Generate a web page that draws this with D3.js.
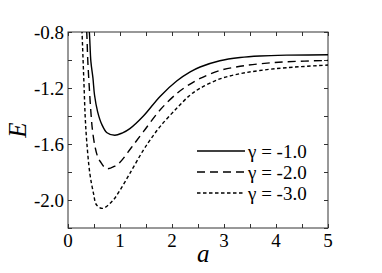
<!DOCTYPE html>
<html>
<head>
<meta charset="utf-8">
<script src="https://cdn.jsdelivr.net/npm/d3@7"></script>
<style>
  body { margin: 0; background: #fff; }
  svg { display: block; }
</style>
</head>
<body>
<div id="chart"></div>
<script>
// curve values: a (x) and E (y)
var aSolid  = [0.38, 0.41, 0.44, 0.48, 0.51, 0.57, 0.65, 0.75, 0.90, 1.05, 1.19, 1.45, 1.77, 2.09, 2.35, 2.54, 2.92, 3.31, 3.69, 4.20, 5.00];
var eSolid  = [-0.70, -0.80, -1.01, -1.13, -1.25, -1.37, -1.46, -1.52, -1.538, -1.52, -1.49, -1.40, -1.26, -1.15, -1.085, -1.05, -1.005, -0.982, -0.971, -0.965, -0.962];

var aDashed = [0.34, 0.36, 0.38, 0.41, 0.44, 0.47, 0.52, 0.57, 0.62, 0.74, 0.90, 1.00, 1.22, 1.45, 1.77, 2.09, 2.28, 2.54, 2.92, 3.31, 3.69, 4.20, 5.00];
var eDashed = [-0.70, -0.80, -1.00, -1.20, -1.37, -1.50, -1.62, -1.69, -1.725, -1.776, -1.758, -1.73, -1.625, -1.512, -1.357, -1.24, -1.188, -1.132, -1.075, -1.045, -1.027, -1.013, -1.003];

var aDotted = [0.26, 0.27, 0.29, 0.31, 0.33, 0.36, 0.42, 0.49, 0.55, 0.67, 0.87, 1.00, 1.19, 1.45, 1.58, 1.77, 2.09, 2.35, 2.54, 2.92, 3.31, 3.69, 4.20, 5.00];
var eDotted = [-0.70, -0.80, -1.00, -1.20, -1.40, -1.58, -1.81, -1.952, -2.036, -2.06, -2.00, -1.93, -1.81, -1.643, -1.571, -1.476, -1.345, -1.25, -1.202, -1.135, -1.098, -1.075, -1.055, -1.036];

var seriesNames = ["\u03b3 = -1.0", "\u03b3 = -2.0", "\u03b3 = -3.0"];
var xTickValues = [0, 1, 2, 3, 4, 5];
var yTickValues = [-2.0, -1.6, -1.2, -0.8];

var serif = "'Liberation Serif', 'Times New Roman', Times, serif";
var labelSize = 19;

var width = 382, height = 273;
var margin = {top: 32, right: 54, bottom: 45, left: 68};
var innerWidth = width - margin.left - margin.right;
var innerHeight = height - margin.top - margin.bottom;

var xScale = d3.scaleLinear().domain([0, 5]).range([0, innerWidth]);
var yScale = d3.scaleLinear().domain([-2.2, -0.8]).range([innerHeight, 0]);

var series = [
    {name: seriesNames[0], a: aSolid,  e: eSolid,  dash: null},
    {name: seriesNames[1], a: aDashed, e: eDashed, dash: "8,5"},
    {name: seriesNames[2], a: aDotted, e: eDotted, dash: "3.5,2.5"}
];

var svg = d3.select("#chart").append("svg")
    .attr("width", width)
    .attr("height", height);

svg.append("defs").append("clipPath").attr("id", "plot-clip")
    .append("rect").attr("width", innerWidth).attr("height", innerHeight);

var g = svg.append("g")
    .attr("transform", "translate(" + margin.left + "," + margin.top + ")");

// inward ticks on all four sides
var xMinor = d3.range(0, 5.01, 0.5);
var yMinor = d3.range(-2.2, -0.79, 0.2);

g.append("g").attr("class", "x axis")
    .attr("transform", "translate(0," + innerHeight + ")")
    .call(d3.axisTop(xScale).tickValues(xMinor).tickSize(4).tickFormat(""));
g.append("g").attr("class", "x axis")
    .call(d3.axisBottom(xScale).tickValues(xMinor).tickSize(4).tickFormat(""));
g.append("g").attr("class", "y axis")
    .call(d3.axisRight(yScale).tickValues(yMinor).tickSize(4).tickFormat(""));
g.append("g").attr("class", "y axis")
    .attr("transform", "translate(" + innerWidth + ",0)")
    .call(d3.axisLeft(yScale).tickValues(yMinor).tickSize(4).tickFormat(""));
g.selectAll(".axis .domain").remove();
g.selectAll(".axis text").remove();
g.selectAll(".axis line").attr("stroke", "#333");

g.append("rect")
    .attr("width", innerWidth)
    .attr("height", innerHeight)
    .attr("fill", "none")
    .attr("stroke", "#333")
    .attr("stroke-width", 1);

// tick labels
var labels = svg.append("g")
    .attr("transform", "translate(" + margin.left + "," + margin.top + ")")
    .style("font-family", serif)
    .style("font-size", labelSize + "px")
    .attr("fill", "#000");

labels.selectAll(".xlab").data(xTickValues).enter().append("text")
    .attr("x", function(d) { return xScale(d); })
    .attr("y", innerHeight + 19)
    .attr("text-anchor", "middle")
    .text(function(d) { return d; });

labels.selectAll(".ylab").data(yTickValues).enter().append("text")
    .attr("x", -4)
    .attr("y", function(d) { return yScale(d); })
    .attr("dy", "0.35em")
    .attr("text-anchor", "end")
    .text(function(d) { return d3.format(".1f")(d).replace("\u2212", "-"); });

// axis titles
svg.append("text")
    .style("font-family", serif).style("font-style", "italic").style("font-size", "25px")
    .attr("x", margin.left + xScale(2.6))
    .attr("y", 262)
    .attr("text-anchor", "middle")
    .text("a");

svg.append("text")
    .style("font-family", serif).style("font-style", "italic").style("font-size", "25px")
    .attr("transform", "translate(26," + (margin.top + yScale(-1.5)) + ") rotate(-90)")
    .attr("text-anchor", "middle")
    .text("E");

// curves
var line = d3.line()
    .x(function(d) { return xScale(d[0]); })
    .y(function(d) { return yScale(d[1]); })
    .curve(d3.curveCatmullRom.alpha(0.5));

var curves = g.append("g").attr("clip-path", "url(#plot-clip)");
curves.selectAll(".curve").data(series).enter().append("path")
    .attr("class", "curve")
    .attr("fill", "none")
    .attr("stroke", "#000")
    .attr("stroke-width", 1.4)
    .attr("stroke-dasharray", function(d) { return d.dash; })
    .attr("d", function(d) { return line(d.a.map(function(v, i) { return [v, d.e[i]]; })); });

// legend
var legend = g.append("g").attr("transform", "translate(129,119)");
var rows = legend.selectAll(".row").data(series).enter().append("g")
    .attr("transform", function(d, i) { return "translate(0," + (i * 21) + ")"; });
rows.append("line")
    .attr("x1", 0).attr("x2", 48)
    .attr("stroke", "#000")
    .attr("stroke-width", 1.4)
    .attr("stroke-dasharray", function(d) { return d.dash; });
rows.append("text")
    .style("font-family", serif)
    .style("font-size", labelSize + "px")
    .attr("x", 51)
    .attr("dy", "0.35em")
    .text(function(d) { return d.name; });
</script>
</body>
</html>
